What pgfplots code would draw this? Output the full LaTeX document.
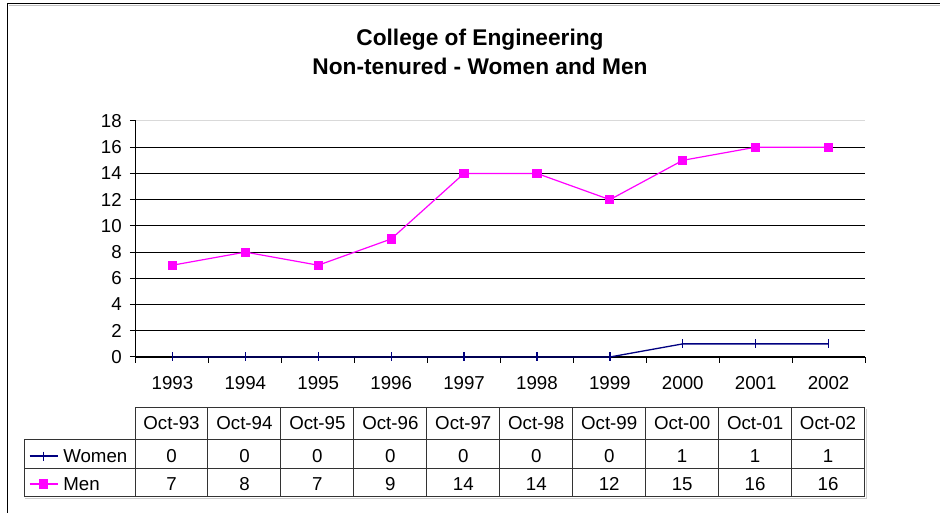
\documentclass[border=0pt]{standalone}
\usepackage{pgfplots}
\pgfplotsset{compat=1.18}
\usepackage{fontspec}
\setmainfont{Liberation Sans}
\definecolor{menc}{RGB}{255,0,255}
\definecolor{womenc}{RGB}{0,0,128}
\newcommand{\tf}{\fontsize{18.7}{21}\selectfont}
\begin{document}
\begin{tikzpicture}[x=1pt,y=1pt]
\path[use as bounding box] (0,0) rectangle (940,513);
\draw[line width=1.5pt] (7.5,0) -- (7.5,509.5) -- (940,509.5);
\draw[black!25, line width=1pt] (9,507.5) -- (940,507.5);
\begin{axis}[
  at={(136pt,156pt)}, anchor=south west,
  scale only axis, width=729pt, height=236pt,
  xmin=-0.5, xmax=9.5, ymin=0, ymax=18,
  axis x line=bottom, axis y line=left,
  axis line style={-, black, line width=1pt},
  x axis line style={-}, y axis line style={-},
  tick align=outside, major tick length=6pt,
  tick style={black, line width=1pt},
  ytick={0,2,...,16},
  extra y ticks={18},
  extra y tick style={grid style={black!15, line width=1pt}},
  ymajorgrids, grid style={black, line width=0.9pt},
  xtick={-0.5,0.5,...,9.5}, xticklabels={},
  extra x ticks={0,1,...,9},
  extra x tick labels={1993,1994,1995,1996,1997,1998,1999,2000,2001,2002},
  extra x tick style={major tick length=0pt, xmajorgrids=false, ymajorgrids=false},
  /pgf/number format/assume math mode=true,
  tick label style={font=\tf},
  yticklabel style={anchor=east, inner sep=0pt, xshift=-8pt},
  xticklabel style={anchor=north, inner sep=0pt, yshift=-19pt},
  clip=false,
  legend style={at={(axis description cs:-0.1468,-0.3602)}, anchor=north west,
    draw=none, fill=none, inner sep=0pt, outer sep=0pt, row sep=0pt,
    font=\tf, nodes={minimum height=28pt, inner sep=0pt, text height=13pt, text depth=0pt},
    /tikz/every odd column/.append style={column sep=5pt}},
  legend cell align=left,
  legend image code/.code={\draw[mark repeat=2,mark phase=2,#1] plot coordinates {(0pt,0pt) (14pt,0pt) (28pt,0pt)};},
]
\addplot[color=womenc, line width=1.3pt, mark=|, mark size=4.5pt, mark options={line width=1.3pt}]
  coordinates {(0,0) (1,0) (2,0) (3,0) (4,0) (5,0) (6,0) (7,1) (8,1) (9,1)};
\addlegendentry{Women}
\addplot[color=menc, line width=1.2pt, mark=square*, mark size=4pt, mark options={solid}]
  coordinates {(0,7) (1,8) (2,7) (3,9) (4,14) (5,14) (6,12) (7,15) (8,16) (9,16)};
\addlegendentry{Men}
\end{axis}
% data table
\begin{scope}[line width=1pt, black!80]
\draw (135,105) -- (865,105);
\draw (24,73) -- (865,73);
\draw (24,44) -- (865,44);
\draw (24,16) -- (865,16);
\draw (24,16) -- (24,73);
\foreach \k in {0,...,10} { \draw ({135+72.95*\k},16) -- ({135+72.95*\k},105); }
\end{scope}
\draw[black!20, line width=1pt] (866.5,15) -- (866.5,104);
\draw[black!20, line width=1pt] (25,14.5) -- (866.5,14.5);
\foreach \lab [count=\i from 0] in {Oct-93,Oct-94,Oct-95,Oct-96,Oct-97,Oct-98,Oct-99,Oct-00,Oct-01,Oct-02}
  { \node[font=\tf, inner sep=0pt] at ({135+72.95*\i+36.5},90) {\lab}; }
\foreach \v [count=\i from 0] in {0,0,0,0,0,0,0,1,1,1}
  { \node[font=\tf, inner sep=0pt] at ({135+72.95*\i+36.5},56.5) {\v}; }
\foreach \v [count=\i from 0] in {7,8,7,9,14,14,12,15,16,16}
  { \node[font=\tf, inner sep=0pt, text height=13pt, text depth=0pt] at ({135+72.95*\i+36.5},28.5) {\v}; }
\node[font=\bfseries\fontsize{22.7}{27}\selectfont, inner sep=0pt] at (480,473) {College of Engineering};
\node[font=\bfseries\fontsize{22.7}{27}\selectfont, inner sep=0pt] at (480,447) {Non-tenured - Women and Men};
\end{tikzpicture}
\end{document}
